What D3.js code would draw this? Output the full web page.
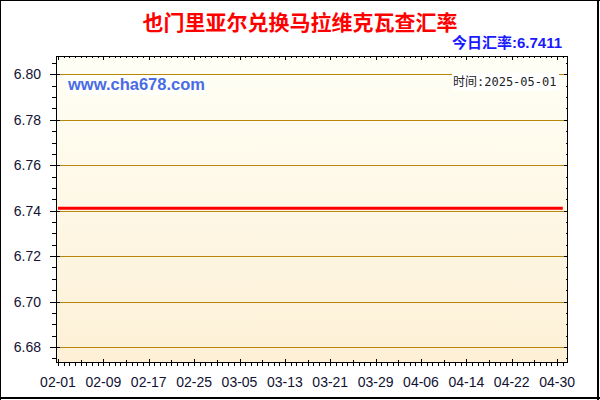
<!DOCTYPE html>
<html><head><meta charset="utf-8">
<script src="https://cdn.jsdelivr.net/npm/d3@7"></script>
<style>html,body{margin:0;padding:0;background:#fff;}svg{display:block;}</style>
</head><body>
<script>
const title = "也门里亚尔兑换马拉维克瓦查汇率";
const todayLabel = "今日汇率:6.7411";
const timeLabel = "时间:2025-05-01";
const site = "www.cha678.com";
// daily rate 02-01 .. 05-01 (flat)
const startDate = "2025-02-01";
const endDate = "2025-05-01";
const rateValues = [6.7411];
const yTicks = [6.68, 6.70, 6.72, 6.74, 6.76, 6.78, 6.80];
const xTickLabels = ["02-01","02-09","02-17","02-25","03-05","03-13","03-21","03-29","04-06","04-14","04-22","04-30"];

const parse = d3.timeParse("%Y-%m-%d");
const days = d3.timeDay.range(parse(startDate), d3.timeDay.offset(parse(endDate), 1));
const data = days.map(d => ({date: d, value: rateValues[0]}));

const W = 600, H = 400;
const svg = d3.select("body").append("svg").attr("width", W).attr("height", H);
const defs = svg.append("defs");
const g = defs.append("linearGradient").attr("id","bg").attr("x1",0).attr("y1",0).attr("x2",0).attr("y2",1);
g.append("stop").attr("offset","0%").attr("stop-color","#fffff6");
g.append("stop").attr("offset","100%").attr("stop-color","#fdf0d6");

svg.append("rect").attr("width",W).attr("height",H).attr("fill","#fff");

const L = 56, R = 568, T = 56, B = 362;
const x = d3.scaleTime()
  .domain([new Date(2025,0,31,15,30), new Date(2025,4,1,22,0)])
  .range([L, R]);
const y = d3.scaleLinear().domain([6.6734, 6.8081]).range([B, T]);

svg.append("rect").attr("x",L).attr("y",T).attr("width",R-L).attr("height",B-T).attr("fill","url(#bg)");

// grid
svg.append("g").selectAll("line").data(yTicks).join("line")
  .attr("x1",L+1).attr("x2",R-1)
  .attr("y1",d=>Math.round(y(d))+0.5).attr("y2",d=>Math.round(y(d))+0.5)
  .attr("stroke","#b8860b").attr("stroke-width",1);

// labels boxes
svg.append("rect").attr("x",66).attr("y",75).attr("width",140).attr("height",20).attr("fill","#fffffa");
svg.append("text").attr("x",68).attr("y",90).text(site)
  .attr("font-family","Arial, 'Liberation Sans', sans-serif").attr("font-weight","bold")
  .attr("font-size",16.5).attr("fill","#4a6be6");
svg.append("rect").attr("x",452).attr("y",73).attr("width",107).attr("height",17).attr("fill","#ffffff");
svg.append("text").attr("x",453).attr("y",86).text(timeLabel)
  .attr("font-family","'DejaVu Sans Mono','Noto Sans CJK SC', monospace")
  .attr("font-size",12).attr("fill","#222");

// line
const line = d3.line().x(d=>x(d.date)).y(d=>y(d.value));
svg.append("path").datum(data).attr("d",line).attr("fill","none")
  .attr("stroke","#ff0000").attr("stroke-width",3);

// frame
svg.append("rect").attr("x",L+0.5).attr("y",T+0.5).attr("width",R-L-1).attr("height",B-T)
  .attr("fill","none").attr("stroke","#000").attr("stroke-width",1);

// y ticks
const yMinor = d3.range(6.675, 6.8081, 0.005).filter(v => v >= 6.6734);
const ty = svg.append("g").attr("stroke","#000").attr("stroke-width",1);
yMinor.forEach(v=>{
  const yy = Math.round(y(v))+0.5;
  const major = yTicks.some(t=>Math.abs(t-v)<1e-6);
  ty.append("line").attr("x1", major?50:52).attr("x2", major?60:L).attr("y1",yy).attr("y2",yy);
  ty.append("line").attr("x1", major?R-4:R-2).attr("x2", R).attr("y1",yy).attr("y2",yy);
});
svg.append("g").selectAll("text").data(yTicks).join("text")
  .attr("x",41).attr("y",d=>y(d)+5).attr("text-anchor","end")
  .attr("font-family","Arial, 'Liberation Sans', sans-serif").attr("font-size",14)
  .attr("fill","#111133").text(d=>d.toFixed(2));

// x ticks
const tx = svg.append("g").attr("stroke","#000").attr("stroke-width",1);
const xStart = parse(startDate);
d3.range(0, 91).forEach(i=>{
  const d = d3.timeDay.offset(xStart, i);
  const xx = Math.round(x(d))+0.5;
  if (xx > R) return;
  const major = i % 8 === 0;
  const mid = i % 4 === 0;
  tx.append("line").attr("x1",xx).attr("x2",xx)
    .attr("y1", major? B-3 : (mid? B-2 : B)).attr("y2", B+4);
  tx.append("line").attr("x1",xx).attr("x2",xx).attr("y1",T).attr("y2", major? T+4 : T+2);
});
svg.append("g").selectAll("text").data(xTickLabels).join("text")
  .attr("x",(d,i)=>x(d3.timeDay.offset(xStart, i*8)))
  .attr("y",387).attr("text-anchor","middle")
  .attr("font-family","Arial, 'Liberation Sans', sans-serif").attr("font-size",14)
  .attr("fill","#111133").text(d=>d);

// titles
svg.append("text").attr("x",300).attr("y",30).attr("text-anchor","middle").text(title)
  .attr("font-family","'Noto Sans CJK SC', sans-serif").attr("font-weight","bold")
  .attr("font-size",21).attr("fill","#ff0000");
svg.append("text").attr("x",562).attr("y",48).attr("text-anchor","end").text(todayLabel)
  .attr("font-family","Arial, 'Liberation Sans', 'Noto Sans CJK SC', sans-serif").attr("font-weight","bold")
  .attr("font-size",15).attr("fill","#1a1aff");

// outer border
svg.append("line").attr("x1",0.5).attr("x2",0.5).attr("y1",0).attr("y2",H).attr("stroke","#000");
svg.append("line").attr("x1",0).attr("x2",W).attr("y1",0.5).attr("y2",0.5).attr("stroke","#000");
svg.append("line").attr("x1",598).attr("x2",598).attr("y1",0).attr("y2",H).attr("stroke","#000").attr("stroke-width",2);
svg.append("line").attr("x1",0).attr("x2",W).attr("y1",398).attr("y2",398).attr("stroke","#000").attr("stroke-width",2);
</script>
</body></html>
